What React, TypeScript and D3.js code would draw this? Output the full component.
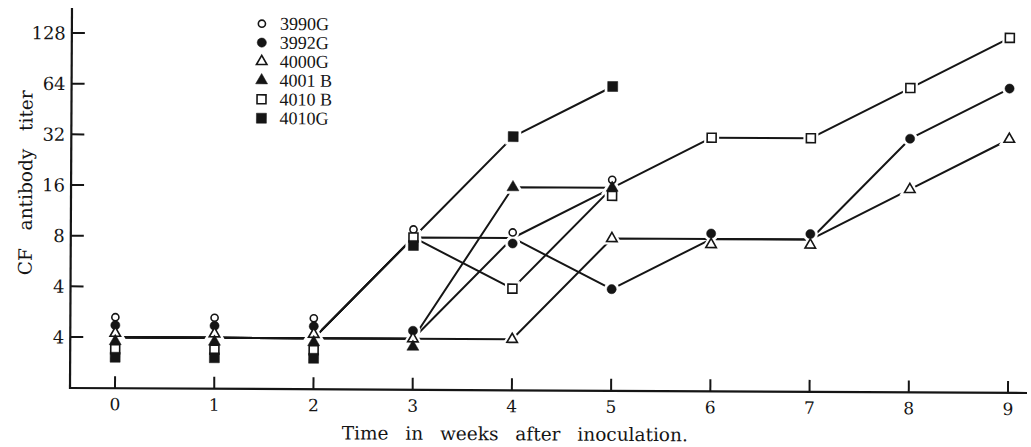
import React from 'react';
import * as d3 from 'd3';

// weeks after inoculation
const weeks = [0, 1, 2, 3, 4, 5, 6, 7, 8, 9];

// titer values for the y ticks ("<4" is drawn at 2 and printed as "4" in the original)
const titerTicks = [2, 4, 8, 16, 32, 64, 128];
const titerTickLabels = ['4', '4', '8', '16', '32', '64', '128'];

const seriesNames = ['3990G', '3992G', '4000G', '4001 B', '4010 B', '4010G'];

// CF antibody titer per week (2 = below 4)
const titer3990G = [2, 2, 2, 8, 8, 16];
const titer3992G = [2, 2, 2, 2, 8, 4, 8, 8, 32, 64];
const titer4000G = [2, 2, 2, 2, 2, 8, 8, 8, 16, 32];
const titer4001B = [2, 2, 2, 2, 16, 16];
const titer4010B = [2, 2, 2, 8, 4, 16, 32, 32, 64, 128];
const titer4010G = [2, 2, 2, 8, 32, 64];

const seriesValues = [titer3990G, titer3992G, titer4000G, titer4001B, titer4010B, titer4010G];

// marker style per series
const markerShapes = [d3.symbolCircle, d3.symbolCircle, d3.symbolTriangle, d3.symbolTriangle, d3.symbolSquare, d3.symbolSquare];
const markerFilled = [false, true, false, true, false, true];
const markerSizes = [40, 66, 48, 62, 80, 100];

const W = 1031;
const H = 447;
const ink = '#151515';
const serif = '"DejaVu Serif", serif';
const times = '"Liberation Serif", "Times New Roman", serif';

const x = d3.scaleLinear().domain([0, 9]).range([115, 1008]);
const y = d3.scaleLog().base(2).domain([2, 128]).range([337, 33]);

const axisX0 = 70;
const axisY0 = 388;

// markers sharing a value in the same week are stacked vertically
function stackOffset(week: number, si: number): number {
  const v = seriesValues[si][week];
  const group = seriesValues.map((s, i) => (s[week] === v ? i : -1)).filter(i => i >= 0);
  const n = group.length;
  const k = group.indexOf(si);
  const gap = n === 2 ? 11 : 8;
  return (k - (n - 1) / 2) * gap;
}

function markerPath(si: number) {
  return d3.symbol().type(markerShapes[si]).size(markerSizes[si])() as string;
}

const App = () => {
  const line = d3
    .line<number>()
    .x((_, i) => x(weeks[i]))
    .y(d => y(d));

  const points: { si: number; cx: number; cy: number }[] = [];
  seriesValues.forEach((vals, si) => {
    vals.forEach((v, w) => {
      points.push({ si, cx: x(weeks[w]), cy: y(v) + stackOffset(w, si) });
    });
  });

  return (
    <svg
      width={W}
      height={H}
      style={{ position: 'absolute', left: 0, top: 0, display: 'block', background: '#fff' }}
    >
      <rect width={W} height={H} fill="#fff" />
      <g transform={`rotate(0.3, ${axisX0}, ${axisY0})`}>
        {/* axes */}
        <line x1={axisX0} y1={8} x2={axisX0} y2={axisY0 + 1} stroke={ink} strokeWidth={2.2} />
        <line x1={axisX0 - 1} y1={axisY0} x2={1027} y2={axisY0} stroke={ink} strokeWidth={2.2} />
        {titerTicks.map((t, i) => (
          <g key={'yt' + i}>
            <line x1={axisX0} x2={axisX0 + 13} y1={y(t)} y2={y(t)} stroke={ink} strokeWidth={2} />
            <text
              x={64}
              y={y(t) + 6.5}
              textAnchor="end"
              fontFamily={serif}
              fontSize={18}
              fill={ink}
            >
              {titerTickLabels[i]}
            </text>
          </g>
        ))}
        {weeks.map(w => (
          <g key={'xt' + w}>
            <line x1={x(w)} x2={x(w)} y1={axisY0} y2={axisY0 - 12} stroke={ink} strokeWidth={2} />
            <text
              x={x(w)}
              y={410}
              textAnchor="middle"
              fontFamily={serif}
              fontSize={17}
              fill={ink}
            >
              {w}
            </text>
          </g>
        ))}

        {/* axis titles */}
        <text
          x={515}
          y={438}
          textAnchor="middle"
          fontFamily={serif}
          fontSize={18.5}
          fill={ink}
          wordSpacing={11}
        >
          Time in weeks after inoculation.
        </text>
        <text
          transform="translate(31, 183) rotate(-90)"
          textAnchor="middle"
          fontFamily={serif}
          fontSize={18.5}
          fill={ink}
          wordSpacing={12}
        >
          CF antibody titer
        </text>

        {/* series lines */}
        {seriesValues.map((vals, si) => (
          <path
            key={'ln' + si}
            d={line(vals) as string}
            fill="none"
            stroke={ink}
            strokeWidth={2}
            strokeLinejoin="round"
          />
        ))}

        {/* white halos so lines stop short of the markers */}
        {points.map((p, i) => (
          <path
            key={'h' + i}
            d={markerPath(p.si)}
            transform={`translate(${p.cx},${p.cy})`}
            fill="#fff"
            stroke="#fff"
            strokeWidth={6}
          />
        ))}
        {points.map((p, i) => (
          <path
            key={'m' + i}
            d={markerPath(p.si)}
            transform={`translate(${p.cx},${p.cy})`}
            fill={markerFilled[p.si] ? ink : '#fff'}
            stroke={ink}
            strokeWidth={markerFilled[p.si] ? 0.5 : 1.6}
          />
        ))}

        {/* legend */}
        {seriesNames.map((name, si) => {
          const ly = 22.7 + si * 18.9;
          return (
            <g key={'lg' + si}>
              <path
                d={markerPath(si)}
                transform={`translate(260,${ly})`}
                fill={markerFilled[si] ? ink : '#fff'}
                stroke={ink}
                strokeWidth={markerFilled[si] ? 0.5 : 1.6}
              />
              <text x={278} y={ly + 6} fontFamily={times} fontSize={18} fill={ink}>
                {name}
              </text>
            </g>
          );
        })}
      </g>
    </svg>
  );
};

export default App;
